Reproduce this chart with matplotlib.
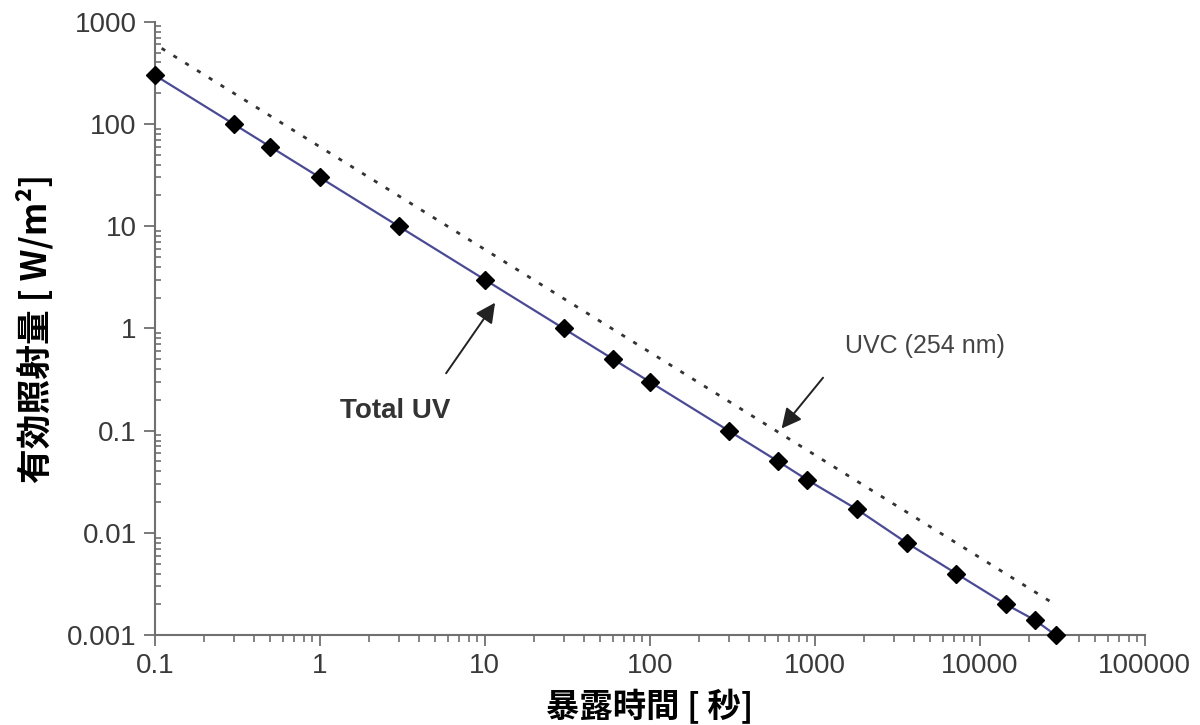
import numpy as np
import matplotlib
matplotlib.use("Agg")
from matplotlib import pyplot as plt
from matplotlib.ticker import LogLocator, NullFormatter, FixedLocator, FixedFormatter

# exposure time [s] and effective irradiance [W/m2]
time_total = [0.1, 0.3, 0.5, 1, 3, 10, 30, 60, 100, 300, 600, 900,
              1800, 3600, 7200, 14400, 21600, 28800]
irr_total = [300, 100, 60, 30, 10, 3, 1, 0.5, 0.3, 0.1, 0.05, 0.033,
             0.017, 0.008, 0.004, 0.002, 0.0014, 0.001]

time_uvc = [0.11, 28500]
irr_uvc = [550, 0.002]

x_ticks = [0.1, 1, 10, 100, 1000, 10000, 100000]
x_labels = ["0.1", "1", "10", "100", "1000", "10000", "100000"]
y_ticks = [0.001, 0.01, 0.1, 1, 10, 100, 1000]
y_labels = ["0.001", "0.01", "0.1", "1", "10", "100", "1000"]

tick_font = "Liberation Sans"
cjk = ["Noto Sans CJK JP", "DejaVu Sans"]
axis_col = "#707070"

fig = plt.figure(figsize=(12, 7.25), dpi=100)
ax = fig.add_axes([0.129, 0.124, 0.825, 0.846])

ax.plot(time_uvc, irr_uvc, linestyle=(0, (1.5, 3.5)), color="#333333", lw=2.0)
ax.plot(time_total, irr_total, color="#4b4b95", lw=1.6, marker="D",
        markersize=9, markerfacecolor="black", markeredgecolor="black",
        clip_on=False, zorder=5)

ax.set_xscale("log")
ax.set_yscale("log")
ax.set_xlim(0.1, 100000)
ax.set_ylim(0.001, 1000)

for s in ["top", "right"]:
    ax.spines[s].set_visible(False)
for s in ["left", "bottom"]:
    ax.spines[s].set_color(axis_col)
    ax.spines[s].set_linewidth(1.5)

ax.xaxis.set_major_locator(FixedLocator(x_ticks))
ax.xaxis.set_major_formatter(FixedFormatter(x_labels))
ax.yaxis.set_major_locator(FixedLocator(y_ticks))
ax.yaxis.set_major_formatter(FixedFormatter(y_labels))
ax.xaxis.set_minor_locator(LogLocator(base=10, subs=np.arange(2, 10)))
ax.yaxis.set_minor_locator(LogLocator(base=10, subs=np.arange(2, 10)))
ax.xaxis.set_minor_formatter(NullFormatter())
ax.yaxis.set_minor_formatter(NullFormatter())

ax.tick_params(axis="both", which="major", length=8, width=1.3, color=axis_col,
               labelsize=20, labelcolor="#3a3a3a", pad=5)
ax.tick_params(axis="x", which="minor", direction="out", length=5, width=1.2, color=axis_col)
ax.tick_params(axis="y", which="minor", direction="in", length=4, width=1.2, color=axis_col)
for lab in ax.get_xticklabels() + ax.get_yticklabels():
    lab.set_fontfamily(tick_font)

ax.set_xlabel("暴露時間 [ 秒]", family=cjk, fontsize=24, fontweight="bold", labelpad=7)
ax.set_ylabel("有効照射量 [ W/m²]", family=cjk, fontsize=25, fontweight="bold", labelpad=10)

arrow = dict(arrowstyle="-|>,head_length=1.2,head_width=0.6",
             color="#222222", lw=1.4)
ax.annotate("", xy=(11.8, 1.88), xytext=(5.7, 0.346), arrowprops=arrow)
ax.text(2.85, 0.157, "Total UV", family=tick_font, fontsize=20, fontweight="bold",
        color="#333333", ha="center", va="center")

ax.annotate("", xy=(614, 0.1), xytext=(1150, 0.346), arrowprops=arrow)
ax.text(4640, 0.68, "UVC (254 nm)", family=tick_font, fontsize=18,
        color="#444444", ha="center", va="center")

fig.savefig("out.png", dpi=100)
